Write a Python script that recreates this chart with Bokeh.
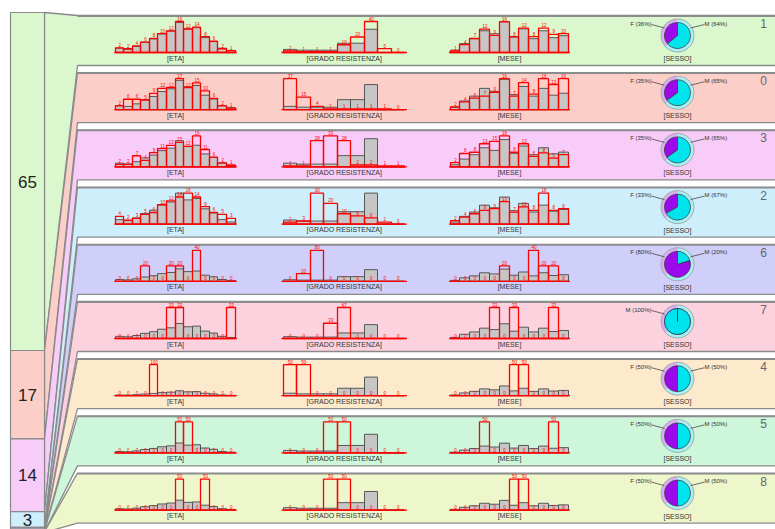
import numpy as np
from bokeh.plotting import figure
from bokeh.models import Range1d
from bokeh.core.properties import value
from bokeh.embed import file_html
from bokeh.resources import INLINE

# ---------------- data ----------------
cluster_ids = ["1", "0", "3", "2", "6", "7", "4", "5", "8"]
cluster_pct = [65, 17, 14, 3, 0.36, 0.21, 0.14, 0.14, 0.14]

eta_all = [2.3, 1.8, 3.2, 5.5, 7.2, 9.9, 11.4, 16.0, 12.5, 13.2, 7.9, 5.8, 2.3, 1.1]
eta_rows = [
    [2.5, 2.0, 3.5, 5.5, 7.5, 10.0, 11.5, 16.5, 12.5, 13.5, 8.5, 6.0, 2.0, 1.0],
    [2.1, 5.7, 5.7, 5.3, 8.9, 11.6, 12.1, 16.9, 12.1, 14.6, 10.3, 6.2, 2.1, 0.9],
    [1.5, 1.5, 6.8, 4.0, 8.7, 11.2, 13.1, 15.0, 12.5, 18.9, 10.6, 6.0, 2.5, 1.0],
    [4.0, 2.0, 3.0, 5.0, 6.0, 10.0, 12.0, 14.0, 16.0, 14.0, 9.0, 6.0, 5.0, 3.0],
    [0, 0, 0, 20, 0, 0, 20, 20, 0, 40, 0, 0, 0, 0],
    [0, 0, 0, 0, 0, 0, 33, 33, 0, 0, 0, 0, 0, 33],
    [0, 0, 0, 0, 100, 0, 0, 0, 0, 0, 0, 0, 0, 0],
    [0, 0, 0, 0, 0, 0, 0, 50, 50, 0, 0, 0, 0, 0],
    [0, 0, 0, 0, 0, 0, 0, 50, 0, 0, 50, 0, 0, 0],
]

grado_all = [4, 3, 3, 3, 12, 12, 30, 0, 0]
grado_rows = [
    [2, 1, 1, 1, 10, 20, 40, 5, 0],
    [37, 15, 4, 1, 1, 1, 1, 1, 0],
    [1, 1, 28, 33, 28, 2, 2, 1, 1],
    [2, 3, 30, 20, 10, 8, 6, 2, 0],
    [0, 20, 80, 0, 0, 0, 0, 0, 0],
    [0, 0, 0, 33, 67, 0, 0, 0, 0],
    [50, 50, 0, 0, 0, 0, 0, 0, 0],
    [0, 0, 0, 50, 50, 0, 0, 0, 0],
    [0, 0, 0, 50, 50, 0, 0, 0, 0],
]

mese_all = [1.2, 4.5, 7, 11, 9.5, 15.7, 7.8, 12, 7, 11, 7.5, 8.5]
mese_rows = [
    [0.8, 4, 7.1, 11.8, 8.7, 15.5, 8, 12.3, 8, 12.3, 9.2, 9.6],
    [1.5, 4, 6, 7, 9, 16, 7, 14, 8, 16, 13, 16],
    [2.4, 7.7, 8.4, 13.3, 14.6, 17.8, 8.4, 13.3, 6, 8, 5, 7],
    [2, 4, 6, 8, 9, 13, 7, 10, 8, 18, 8, 9],
    [0, 0, 0, 0, 0, 20, 0, 0, 40, 20, 20, 0],
    [0, 0, 0, 0, 33, 0, 33, 0, 0, 0, 33, 0],
    [0, 0, 0, 0, 0, 0, 50, 50, 0, 0, 0, 0],
    [0, 0, 0, 50, 0, 0, 0, 0, 0, 0, 50, 0],
    [0, 0, 0, 0, 0, 0, 50, 50, 0, 0, 0, 0],
]

sesso_labels = ["F", "M"]
sesso_all = [37, 63]
sesso_rows = [
    [36, 64], [35, 65], [35, 65], [33, 67], [80, 20],
    [0, 100], [50, 50], [50, 50], [50, 50],
]

# ---------------- style / layout ----------------
panel_colors = ["#dbf7cd", "#fbcfc8", "#f8ccf8", "#cdeefa", "#cfcff9",
                "#fcd2de", "#fde9cc", "#cdf6da", "#eef7cb"]
F_COL, M_COL = "#9a0aea", "#00e4ee"
F_RING, M_RING = "#d7b0f2", "#a8f0f4"
FONT = "Liberation Sans"

W, H = 775, 529
IMG_H = 529


def yy(y_img):
    return IMG_H - y_img


p = figure(width=W, height=H, x_range=Range1d(0, W), y_range=Range1d(0, H),
           output_backend="svg", toolbar_location=None, min_border=0)
p.axis.visible = False
p.grid.visible = False
p.outline_line_color = None
p.background_fill_color = "white"

ROW_TOP0, ROW_PITCH, ROW_H = 15.0, 57.2, 50.0
COL_X0, COL_X1, PANEL_X = 10, 44, 77
COL_TOP, PX_PER_PCT = 12.0, 5.2

tops = [ROW_TOP0 + ROW_PITCH * i for i in range(len(cluster_ids))]
seg_edges = COL_TOP + PX_PER_PCT * np.concatenate([[0], np.cumsum(cluster_pct)])

# wedge-shaped panels
for i, cid in enumerate(cluster_ids):
    t, b = tops[i], tops[i] + ROW_H
    xs = [COL_X1, PANEL_X, 800, 800, PANEL_X, COL_X1]
    ys = [yy(seg_edges[i]), yy(t), yy(t), yy(b), yy(b), yy(seg_edges[i + 1])]
    p.patch(xs, ys, fill_color=panel_colors[i], line_color="#8a8a8a", line_width=1.3)
    p.segment(x0=[PANEL_X], y0=[yy(t) - 0.6], x1=[800], y1=[yy(t) - 0.6], line_color="#8c8c8c", line_width=1.6)

# left column
for i, pct in enumerate(cluster_pct):
    p.quad(left=COL_X0, right=COL_X1, top=yy(seg_edges[i]), bottom=yy(seg_edges[i + 1]),
           fill_color=panel_colors[i], line_color="#8a8a8a", line_width=1.2)
    if pct >= 1:
        p.text(x=[(COL_X0 + COL_X1) / 2], y=[yy((seg_edges[i] + seg_edges[i + 1]) / 2)], text=[str(pct)],
               text_font=value(FONT), text_font_size="17px", text_color="#222222",
               text_align="center", text_baseline="middle")

BASE_OFF, CH = 37.0, 31.0


def histogram(t, x0, x1, all_vals, row_vals, label):
    n = len(all_vals)
    vmax = max(max(all_vals), max(row_vals))
    base = yy(t + BASE_OFF)
    sub = p.subplot(x_source=Range1d(0, n), y_source=Range1d(0, vmax),
                    x_target=Range1d(x0, x1), y_target=Range1d(base, base + CH))
    idx = np.arange(n)
    sub.quad(left=idx, right=idx + 1, bottom=0, top=all_vals, fill_color="#c6c6c6",
             line_color="#4a4a4a", line_width=0.9)
    sub.segment(x0=[-0.15], y0=[0], x1=[n + 0.15], y1=[0], line_color="#ff0000", line_width=1.3)
    sub.quad(left=idx, right=idx + 1, bottom=0, top=row_vals, fill_alpha=0,
             line_color="#ff0000", line_width=1.3)
    sub.text(x=idx + 0.5, y=row_vals, text=[f"{v:.0f}" for v in row_vals], y_offset=-1,
             text_font=value(FONT), text_font_size="4.5px", text_color="#ff0000",
             text_align="center", text_baseline="bottom")
    p.text(x=[(x0 + x1) / 2], y=[yy(t + 42.5)], text=[label], text_font=value(FONT),
           text_font_size="7px", text_color="#333333", text_align="center", text_baseline="middle")


for i in range(len(cluster_ids)):
    t = tops[i]
    histogram(t, 115, 235, eta_all, eta_rows[i], "[ETA]")
    histogram(t, 283, 404.5, grado_all, grado_rows[i], "[GRADO RESISTENZA]")
    histogram(t, 450, 568, mese_all, mese_rows[i], "[MESE]")

    # pie
    cx, cy = 677, yy(t + 20)
    ga = np.cumsum([0] + sesso_all) / sum(sesso_all) * 2 * np.pi + np.pi / 2
    p.annular_wedge(x=cx, y=cy, inner_radius=13, outer_radius=16.5, start_angle=ga[:-1], end_angle=ga[1:],
                    fill_color=[F_RING, M_RING], line_color=None)
    p.circle(x=[cx], y=[cy], radius=16.5, fill_alpha=0, line_color="#9a9a9a", line_width=0.8)
    vals = sesso_rows[i]
    ra = np.cumsum([0] + vals) / sum(vals) * 2 * np.pi + np.pi / 2
    p.wedge(x=cx, y=cy, radius=13, start_angle=ra[:-1], end_angle=ra[1:],
            fill_color=[F_COL, M_COL], line_color="#333333", line_width=0.7)
    present = [(lab, v) for lab, v in zip(sesso_labels, vals) if v > 0]
    for k, (lab, v) in enumerate(present):
        left_side = k == 0
        tx = 651 if left_side else 704
        ang = np.deg2rad(150 if left_side else 30)
        ly = yy(t + 8)
        p.segment(x0=[tx], y0=[ly - 1], x1=[cx + 15 * np.cos(ang)], y1=[cy + 15 * np.sin(ang)],
                  line_color="#333333", line_width=0.7)
        p.text(x=[tx], y=[ly], text=[f"{lab} ({v:.0f}%)"], text_font=value(FONT), text_font_size="6px",
               text_color="#333333", text_align="right" if left_side else "left", text_baseline="middle")
    p.text(x=[cx], y=[yy(t + 43)], text=["[SESSO]"], text_font=value(FONT), text_font_size="7px",
           text_color="#333333", text_align="center", text_baseline="middle")

    # cluster id
    p.text(x=[763], y=[yy(t + 8)], text=[cluster_ids[i]], text_font=value(FONT), text_font_size="12px",
           text_color="#666666", text_align="center", text_baseline="middle")

open("out.html", "w").write(file_html(p, INLINE))
